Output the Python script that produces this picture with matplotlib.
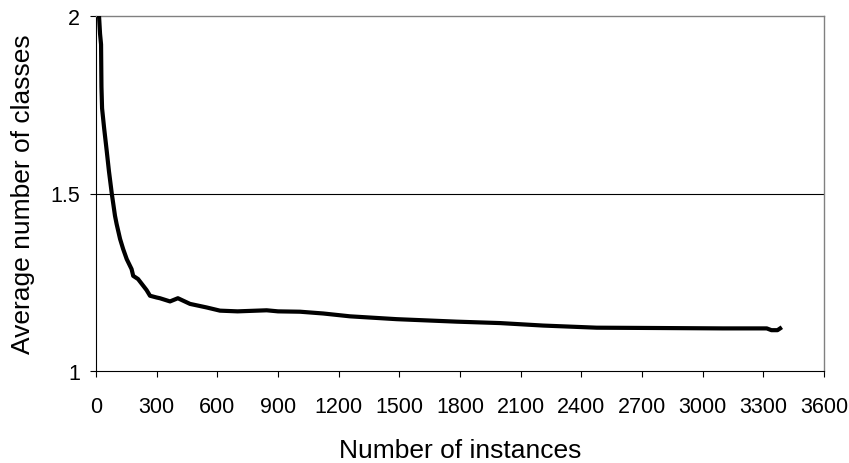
import matplotlib
matplotlib.use("Agg")
import matplotlib.pyplot as plt

plt.rcParams["font.family"] = ["Liberation Sans", "DejaVu Sans"]

# curve (instances vs average number of classes)
instances = [3, 15, 20, 25, 27, 30, 40, 53, 64, 78, 94, 102, 119, 134, 152, 176, 184,
             208, 250, 267, 300, 316, 366, 405, 465, 547, 613, 700, 844, 900, 1009,
             1124, 1256, 1487, 1784, 1998, 2211, 2476, 2800, 3100, 3317, 3340, 3370, 3383]
avg_classes = [2.4, 2.0, 1.95, 1.92, 1.80, 1.74, 1.685, 1.62, 1.563, 1.50, 1.437, 1.414,
               1.372, 1.344, 1.315, 1.287, 1.268, 1.259, 1.228, 1.212, 1.207, 1.205, 1.196,
               1.205, 1.189, 1.179, 1.170, 1.168, 1.171, 1.168, 1.167, 1.162, 1.154, 1.146,
               1.139, 1.135, 1.128, 1.122, 1.121, 1.120, 1.120, 1.115, 1.115, 1.120]
xticks = list(range(0, 3601, 300))
yticks = [1, 1.5, 2]
ytick_labels = ["1", "1.5", "2"]

fig = plt.figure(figsize=(8.49, 4.64), dpi=100)
ax = fig.add_axes([96 / 849, 92 / 464, 728 / 849, 355 / 464])
ax.axhline(1.5, color="black", lw=0.8, zorder=1)
ax.plot(instances, avg_classes, color="black", lw=3, solid_joinstyle="round", zorder=3)
ax.set_xlim(0, 3600); ax.set_ylim(1, 2)
ax.set_xticks(xticks); ax.set_yticks(yticks); ax.set_yticklabels(ytick_labels)
ax.tick_params(axis="both", direction="out", length=4.5, width=0.8, labelsize=15.5, color="black")
ax.tick_params(axis="x", pad=13.5)
ax.tick_params(axis="y", pad=7)
for s in ["top", "right"]:
    ax.spines[s].set_color("#808080"); ax.spines[s].set_linewidth(1.0)
for s in ["left", "bottom"]:
    ax.spines[s].set_color("black"); ax.spines[s].set_linewidth(0.8)
ax.set_xlabel("Number of instances", fontsize=19, labelpad=15)
ax.set_ylabel("Average number of classes", fontsize=19, labelpad=11)
fig.savefig("out.png", dpi=100)
